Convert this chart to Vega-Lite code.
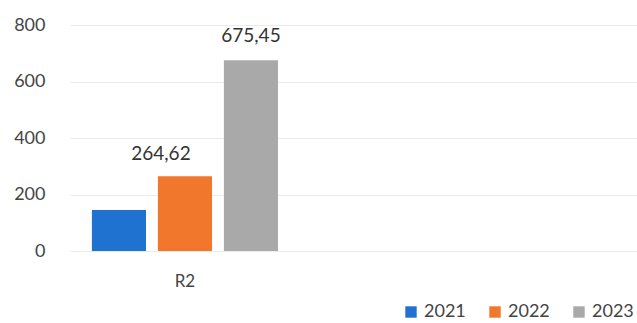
{
  "$schema": "https://vega.github.io/schema/vega-lite/v6.json",
  "width": 567,
  "height": 226,
  "autosize": {"type": "none"},
  "padding": {"left": 70, "top": 25, "right": 0, "bottom": 72},
  "background": "white",
  "config": {
    "font": "Lato",
    "view": {"stroke": null}
  },
  "data": {
    "values": [
      {"region": "R2", "year": "2021", "value": 145, "label": ""},
      {"region": "R2", "year": "2022", "value": 264.62, "label": "264,62"},
      {"region": "R2", "year": "2023", "value": 675.45, "label": "675,45"}
    ]
  },
  "encoding": {
    "x": {
      "field": "region",
      "type": "nominal",
      "scale": {"domain": ["R2", "R3"], "paddingInner": 0.448, "paddingOuter": 0.065},
      "axis": {
        "title": null,
        "domain": false,
        "ticks": false,
        "labelAngle": 0,
        "labelFontSize": 17,
        "labelColor": "#444444",
        "labelPadding": 22,
        "labelExpr": "datum.value == 'R2' ? 'R2' : ''"
      }
    },
    "xOffset": {
      "field": "year",
      "type": "nominal",
      "scale": {"domain": ["2021", "2022", "2023"], "paddingInner": 0.18, "paddingOuter": 0}
    },
    "y": {
      "field": "value",
      "type": "quantitative",
      "scale": {"domain": [0, 800]},
      "axis": {
        "title": null,
        "values": [0, 200, 400, 600, 800],
        "domain": false,
        "ticks": false,
        "labelFontSize": 18,
        "labelColor": "#444444",
        "labelPadding": 25,
        "gridColor": "#ebebeb",
        "gridWidth": 1
      }
    }
  },
  "layer": [
    {
      "mark": {"type": "bar"},
      "encoding": {
        "color": {
          "field": "year",
          "type": "nominal",
          "scale": {"domain": ["2021", "2022", "2023"], "range": ["#1f72d0", "#f0772c", "#a9a9a9"]},
          "legend": {
            "title": null,
            "orient": "none",
            "direction": "horizontal",
            "legendX": 332,
            "legendY": 278,
            "symbolType": "square",
            "symbolSize": 130,
            "symbolStrokeWidth": 0,
            "labelFontSize": 18,
            "labelColor": "#444444",
            "labelOffset": 4,
            "columnPadding": 20
          }
        }
      }
    },
    {
      "transform": [{"filter": "datum.year == '2023'"}],
      "mark": {"type": "text", "baseline": "alphabetic", "dy": -18, "fontSize": 19, "color": "#333333"},
      "encoding": {
        "text": {"field": "label", "type": "nominal"}
      }
    },
    {
      "transform": [{"filter": "datum.year == '2022'"}],
      "mark": {"type": "text", "baseline": "alphabetic", "dy": -16, "dx": -24, "fontSize": 19, "color": "#333333"},
      "encoding": {
        "text": {"field": "label", "type": "nominal"}
      }
    }
  ]
}
